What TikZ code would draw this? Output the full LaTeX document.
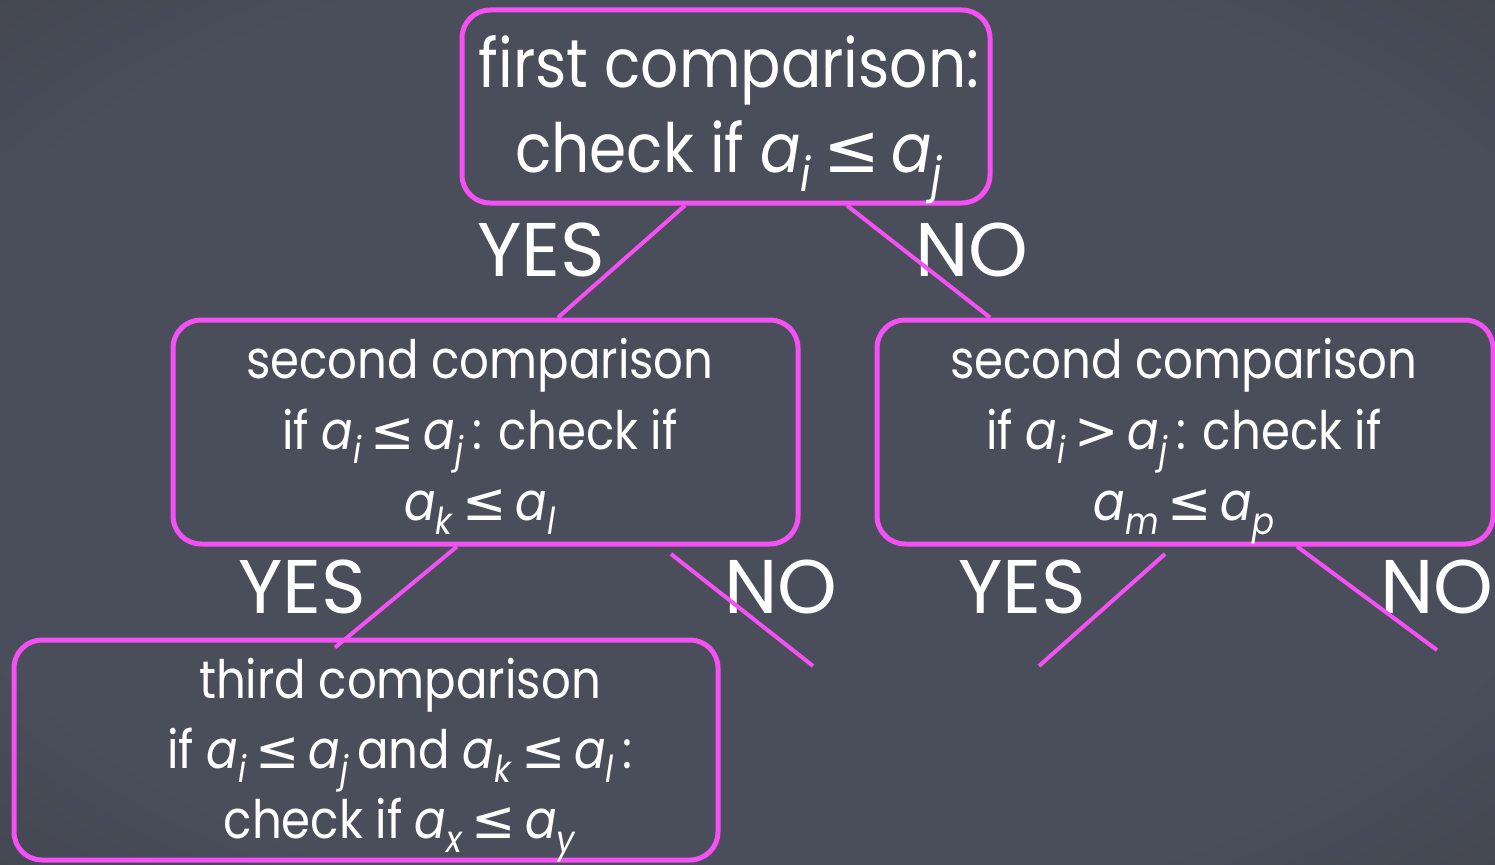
\documentclass[tikz,border=0pt]{standalone}
\usepackage{fontspec}
\usepackage{graphicx}
\setmainfont{Poppins}
\newfontfamily\boxfont{Poppins}[FakeStretch=0.88]
\newfontfamily\symfont{DejaVu Sans}
\definecolor{mag}{RGB}{244,80,244}
\definecolor{bgl}{RGB}{74,78,90}
\definecolor{bgd}{RGB}{36,38,44}
\pgfdeclareradialshading{vign}{\pgfpoint{0bp}{0bp}}{color(0bp)=(bgl); color(28bp)=(bgl); color(72bp)=(bgd)}
\newcommand\va[1]{\textit{a}\raisebox{-0.28em}{\scalebox{0.7}{\textit{#1}}}}
\newcommand\leqs{\,{\symfont ≤}\,}
\newcommand\gts{\,{\symfont >}\,}
\begin{document}
\begin{tikzpicture}[x=1pt,y=-1pt,
  box/.style={draw=mag, line width=5pt, rounded corners=28pt, inner sep=0pt},
  txt/.style={text=white, align=center, inner sep=0pt, anchor=base},
  conn/.style={draw=mag, line width=4pt},
  lbl/.style={text=white, font=\fontsize{76}{90}\selectfont, inner sep=0pt},
  big/.style={font=\boxfont\fontsize{68}{85}\selectfont},
  mid/.style={font=\boxfont\fontsize{53}{71}\selectfont},
  low/.style={font=\boxfont\fontsize{53}{70}\selectfont}]
\useasboundingbox (0,0) rectangle (1495,864);
\shade[shading=vign] (0,0) rectangle (1495,864);
\node[box, minimum width=528pt, minimum height=193pt] (q1) at (726,106.5) {};
\node[box, minimum width=625pt, minimum height=224pt] (ml) at (485.5,432) {};
\node[box, minimum width=616pt, minimum height=224pt] (mr) at (1185,432) {};
\node[box, minimum width=704pt, minimum height=220pt] (q3) at (366,750) {};
\node[txt, big] (q1t) at (729,172)
  {first comparison:\\check if \va{i}\leqs\va{j}};
\node[txt, mid] (mlt) at (480,520)
  {second comparison\\if \va{i}\leqs\va{j}\,: check if\\\va{k}\leqs\va{l}};
\node[txt, mid] (mrt) at (1184,520)
  {second comparison\\if \va{i}\gts\va{j}\,: check if\\\va{m}\leqs\va{p}};
\node[txt, low] (q3t) at (400,838)
  {third comparison\\if \va{i}\leqs\va{j}\,and \va{k}\leqs\va{l}\,:\\check if \va{x}\leqs\va{y}};
\node[lbl] (y1) at (541,250) {YES};
\node[lbl] (n1) at (972,250) {NO};
\node[lbl] (y2) at (302,587) {YES};
\node[lbl] (n2) at (781,587) {NO};
\node[lbl] (y3) at (1022,587) {YES};
\node[lbl] (n3) at (1437,587) {NO};
\coordinate (a1) at (671,554);
\coordinate (a2) at (813,666);
\coordinate (b1) at (1165,554);
\coordinate (b2) at (1039,666);
\coordinate (c2) at (1437,650);
\draw[conn] ([xshift=-41pt]q1.south) -- ([xshift=72.5pt]ml.north);
\draw[conn] ([xshift=121pt]q1.south) -- ([xshift=-195pt]mr.north);
\draw[conn] ([xshift=-28.5pt]ml.south) -- ([xshift=-31pt,yshift=-10pt]q3.north);
\draw[conn] (a1) -- (a2);
\draw[conn] (b1) -- (b2);
\draw[conn] ([xshift=112pt]mr.south) -- (c2);
\end{tikzpicture}
\end{document}
